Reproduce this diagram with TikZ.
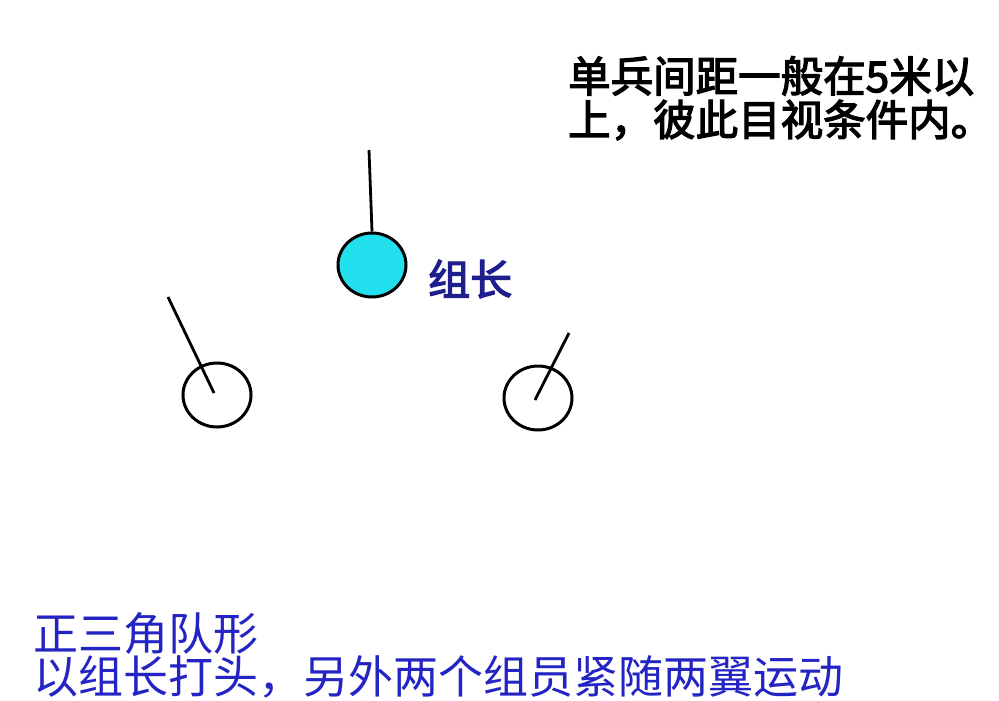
\documentclass[tikz,border=0pt]{standalone}
\usepackage{fontspec}
\usetikzlibrary{shapes.geometric,calc}
\newfontfamily\cjk{Noto Sans CJK SC}
\newfontfamily\cjkb[FakeBold=3]{Noto Sans CJK SC}
\definecolor{leadfill}{HTML}{22E0EE}
\definecolor{navy}{HTML}{1E1E8C}
\definecolor{textblue}{HTML}{2424C4}
\begin{document}
\begin{tikzpicture}[x=1pt,y=-1pt,
  soldier/.style={draw=black,line width=3pt,ellipse,minimum width=68pt,minimum height=64pt,inner sep=0pt},
  heading/.style={line width=2.8pt,black},
  txt/.style={anchor=west,inner sep=0pt}]
\useasboundingbox (0,0) rectangle (999,701);
\fill[white] (0,0) rectangle (999,701);
% soldiers
\node[soldier,fill=leadfill] (lead) at (372,265) {};
\node[soldier] (left) at (217,395) {};
\node[soldier] (right) at (538,398) {};
% heading lines
\coordinate (leadtip) at (369,150);
\coordinate (lefttip) at (168,297);
\coordinate (righttip) at (569,333);
\draw[heading] (leadtip) -- (lead.north);
\draw[heading] (lefttip) -- ($(left.center)+(-3,-2)$);
\draw[heading] (righttip) -- ($(right.center)+(-3,2)$);
% labels
\node[txt,text=navy,font=\cjkb\fontsize{42}{44}\selectfont] (lbl) at (428,279) {组长};
\node[txt,text=black,font=\cjkb\fontsize{42.5}{45}\selectfont] (t1) at (568,76) {单兵间距一般在5米以};
\node[txt,text=black,font=\cjkb\fontsize{42.5}{45}\selectfont] (t2) at (568,120) {上，彼此目视条件内。};
\node[txt,text=textblue,font=\cjk\fontsize{45}{47}\selectfont] (b1) at (33,634) {正三角队形};
\node[txt,text=textblue,font=\cjk\fontsize{45}{47}\selectfont] (b2) at (33,677) {以组长打头，另外两个组员紧随两翼运动};
\end{tikzpicture}
\end{document}
